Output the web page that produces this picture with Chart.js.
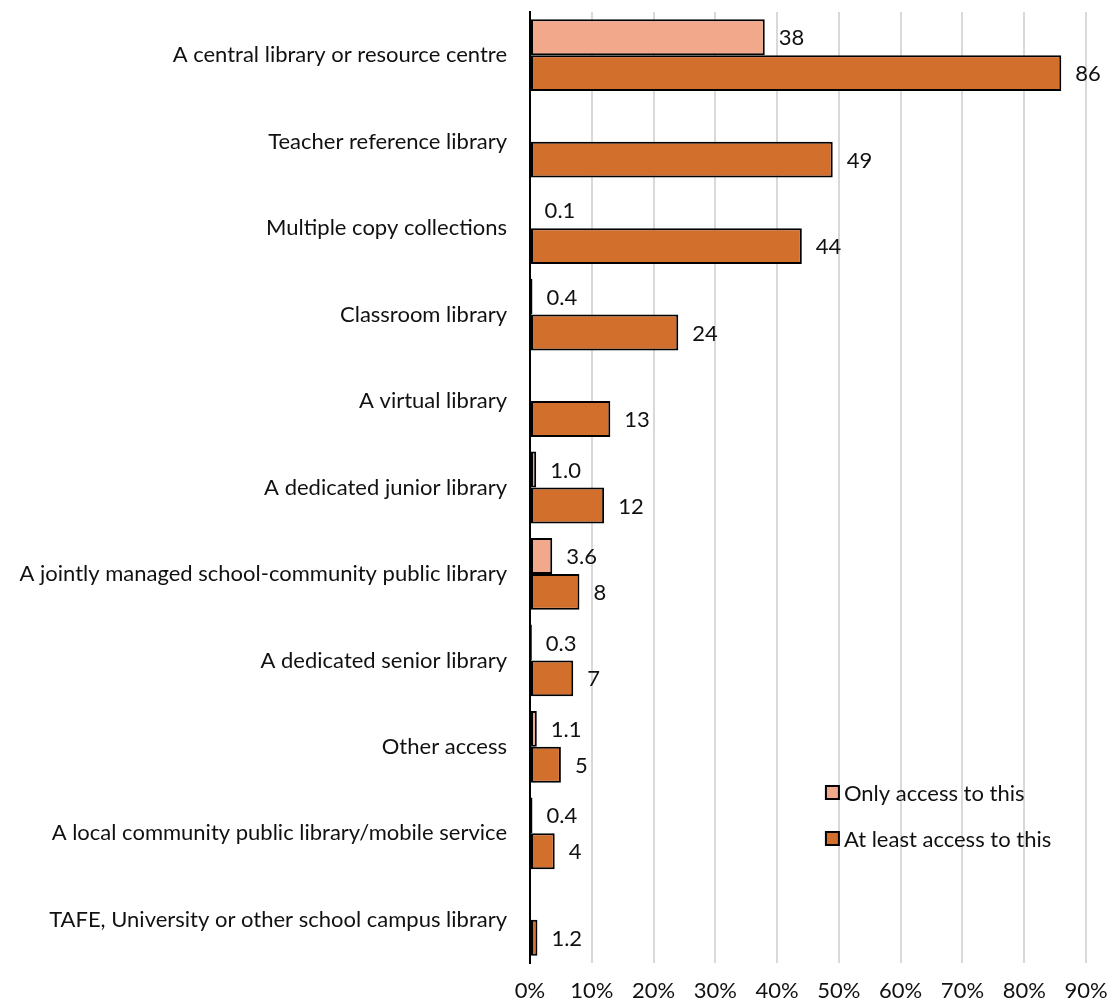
<!DOCTYPE html>
<html>
<head>
<meta charset="utf-8">
<script src="https://cdn.jsdelivr.net/npm/chart.js@4.4.1/dist/chart.umd.min.js"></script>
<style>
  html, body { margin: 0; padding: 0; background: #fff; }
  #wrap { width: 1109px; height: 1006px; position: relative; }
</style>
</head>
<body>
<div id="wrap"><canvas id="libChart" width="1109" height="1006"></canvas></div>
<script>
'use strict';

// library access types, top to bottom
var categories = [
    'A central library or resource centre',
    'Teacher reference library',
    'Multiple copy collections',
    'Classroom library',
    'A virtual library',
    'A dedicated junior library',
    'A jointly managed school-community public library',
    'A dedicated senior library',
    'Other access',
    'A local community public library/mobile service',
    'TAFE, University or other school campus library'
];

// percentages, kept as the printed text so "1.0" stays "1.0"
var onlyAccess = ['38', null, '0.1', '0.4', null, '1.0', '3.6', '0.3', '1.1', '0.4', null];
var atLeastAccess = ['86', '49', '44', '24', '13', '12', '8', '7', '5', '4', '1.2'];

var seriesNames = ['Only access to this', 'At least access to this'];
var xTicks = [0, 10, 20, 30, 40, 50, 60, 70, 80, 90];

var FONT = 'Lato, "Open Sans", sans-serif';
var FSIZE = 22;
var TEXT = '#111';

var chartjs = function () {
    return {

        init: function () {
            chartjs.handleBarChart();
        },

        toNum: function (arr) {
            return arr.map(function (v) { return v === null ? null : Number(v); });
        },

        // value text to the right of each bar
        valueLabels: {
            id: 'valueLabels',
            afterDatasetsDraw: function (chart) {
                var ctx = chart.ctx;
                var texts = [onlyAccess, atLeastAccess];
                ctx.save();
                ctx.font = FSIZE + 'px ' + FONT;
                ctx.fillStyle = TEXT;
                ctx.textAlign = 'left';
                ctx.textBaseline = 'middle';
                chart.data.datasets.forEach(function (ds, i) {
                    chart.getDatasetMeta(i).data.forEach(function (bar, j) {
                        if (texts[i][j] === null) return;
                        ctx.fillText(texts[i][j], bar.x + 14, bar.y + 1);
                    });
                });
                ctx.restore();
            }
        },

        // legend sitting inside the plot, lower right
        boxLegend: {
            id: 'boxLegend',
            afterDraw: function (chart) {
                var ctx = chart.ctx;
                var x0 = chart.scales.x.getPixelForValue(47.9);
                var y0 = 793;
                ctx.save();
                ctx.font = FSIZE + 'px ' + FONT;
                ctx.textBaseline = 'middle';
                ctx.textAlign = 'left';
                chart.data.datasets.forEach(function (ds, i) {
                    var y = y0 + i * 46;
                    ctx.fillStyle = ds.backgroundColor;
                    ctx.fillRect(x0, y - 7, 13, 13);
                    ctx.strokeStyle = '#000';
                    ctx.lineWidth = 2;
                    ctx.strokeRect(x0, y - 7, 13, 13);
                    ctx.fillStyle = TEXT;
                    ctx.fillText(ds.label, x0 + 18, y + 1);
                });
                ctx.restore();
            }
        },

        handleBarChart: function () {
            new Chart('libChart', {
                type: 'bar',
                data: {
                    labels: categories,
                    datasets: [{
                        label: seriesNames[0],
                        data: chartjs.toNum(onlyAccess),
                        backgroundColor: '#F2A98B',
                        borderColor: '#000',
                        borderWidth: 2,
                        borderSkipped: false,
                        categoryPercentage: 0.83,
                        barPercentage: 1.0
                    }, {
                        label: seriesNames[1],
                        data: chartjs.toNum(atLeastAccess),
                        backgroundColor: '#D36F2D',
                        borderColor: '#000',
                        borderWidth: 2,
                        borderSkipped: false,
                        categoryPercentage: 0.83,
                        barPercentage: 1.0
                    }]
                },
                options: {
                    indexAxis: 'y',
                    responsive: false,
                    animation: false,
                    layout: { padding: { top: 12, right: 23, left: 0, bottom: 0 } },
                    plugins: {
                        legend: { display: false },
                        tooltip: { enabled: false }
                    },
                    scales: {
                        x: {
                            min: 0,
                            max: 90,
                            afterBuildTicks: function (scale) {
                                scale.ticks = xTicks.map(function (v) { return { value: v }; });
                            },
                            afterFit: function (scale) {
                                scale.height = 43;
                                scale.paddingLeft = 0;
                                scale.paddingRight = 0;
                            },
                            grid: { color: '#d9d9d9', lineWidth: 2, drawTicks: false },
                            border: { display: false },
                            ticks: {
                                padding: 15,
                                maxRotation: 0,
                                color: TEXT,
                                font: { family: FONT, size: FSIZE },
                                callback: function (v) { return v + '%'; }
                            }
                        },
                        y: {
                            afterFit: function (scale) {
                                scale.width = 530;
                                scale.paddingTop = 0;
                                scale.paddingBottom = 0;
                            },
                            grid: { display: false, drawTicks: false },
                            border: { display: true, color: '#000', width: 2 },
                            ticks: {
                                padding: 23,
                                color: TEXT,
                                font: { family: FONT, size: FSIZE }
                            }
                        }
                    }
                },
                plugins: [chartjs.valueLabels, chartjs.boxLegend]
            });
        }
    };
}();

chartjs.init();
</script>
</body>
</html>
